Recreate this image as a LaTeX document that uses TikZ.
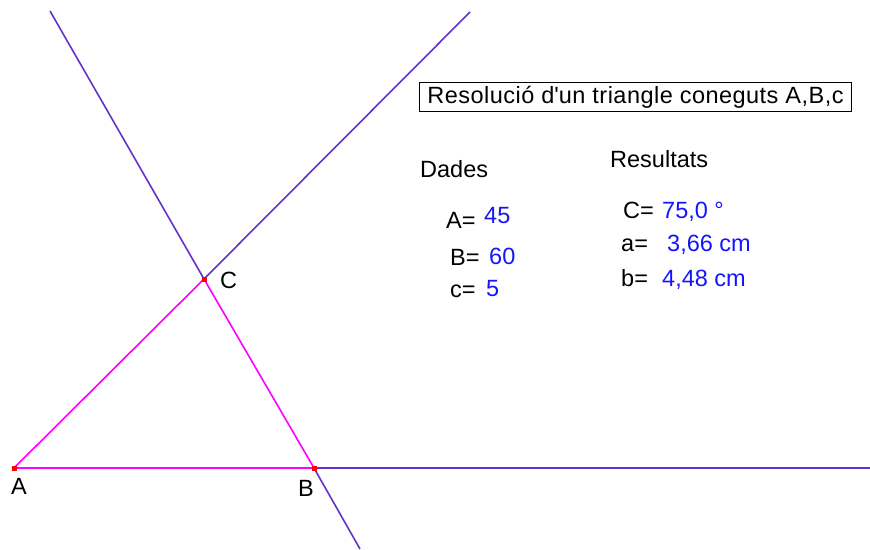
\documentclass[tikz,border=0pt]{standalone}
\usepackage{fontspec}
\setmainfont{Liberation Sans}
\definecolor{lineviolet}{RGB}{100,50,200}
\definecolor{trimag}{RGB}{255,0,255}
\definecolor{ptred}{RGB}{255,0,0}
\definecolor{valblue}{RGB}{20,20,255}
\begin{document}
\begin{tikzpicture}[x=1pt,y=-1pt,
  txt/.style={anchor=base west,inner sep=0pt,font=\fontsize{23.5}{28}\selectfont},
  val/.style={txt,text=valblue},
  ext/.style={draw=lineviolet,line width=1.6pt},
  side/.style={draw=trimag,line width=1.6pt},
  pt/.style={fill=ptred,minimum size=5pt,inner sep=0pt,draw=none}]
\useasboundingbox (0,0) rectangle (870,549);
\coordinate (A) at (14,468);
\coordinate (B) at (314,468);
\coordinate (C) at (204,279);
\coordinate (E1) at (470,12);
\coordinate (E2) at (50,11);
\coordinate (E3) at (360,549);
\coordinate (E4) at (870,468);
% extensions
\draw[ext] (C) -- (E1);
\draw[ext] (C) -- (E2);
\draw[ext] (B) -- (E3);
\draw[ext] (B) -- (E4);
% triangle
\draw[side] (A) -- (B) -- (C) -- cycle;
\node[pt] (pA) at (A) {};
\node[pt] (pB) at (B) {};
\node[pt] (pC) at (C) {};
\node[txt] (lA) at (11,494) {A};
\node[txt] (lB) at (298,496) {B};
\node[txt] (lC) at (220,288) {C};
% title
\node[draw=black,line width=1pt,minimum width=432pt,minimum height=29pt,inner sep=0pt,anchor=north west,font=\fontsize{23.5}{28}\selectfont\addfontfeature{LetterSpace=2}] (title) at (419,82) {Resolució d\textquotesingle un triangle coneguts A,B,c};
% data
\node[txt] (dades) at (420,177) {Dades};
\node[txt] (eqA) at (446,228) {A=};
\node[val] (vA) at (484,223) {45};
\node[txt] (eqB) at (450,265) {B=};
\node[val] (vB) at (489,264) {60};
\node[txt] (eqc) at (450,297) {c=};
\node[val] (vc) at (486,296) {5};
% results
\node[txt] (res) at (610,167) {Resultats};
\node[txt] (eqC) at (623,218) {C=};
\node[val] (vC) at (662,218) {75,0 °};
\node[txt] (eqa) at (621,251) {a=};
\node[val] (va) at (667,251) {3,66 cm};
\node[txt] (eqb) at (621,286) {b=};
\node[val] (vb) at (662,286) {4,48 cm};
\end{tikzpicture}
\end{document}
